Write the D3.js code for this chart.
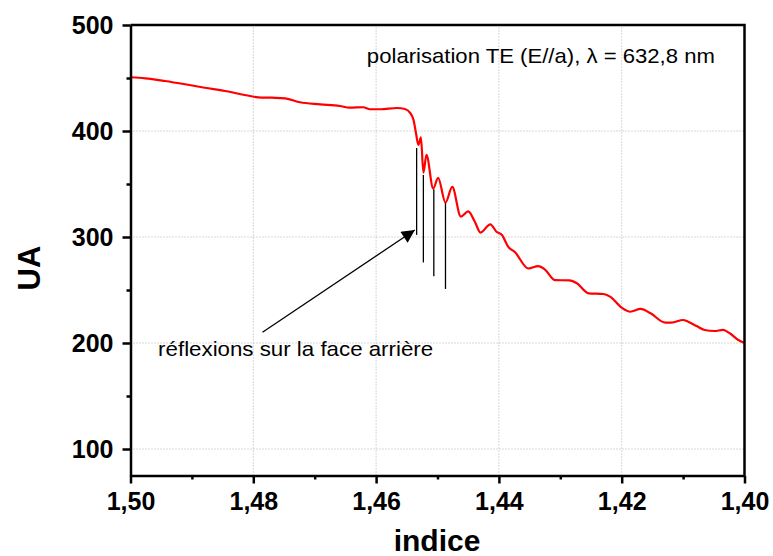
<!DOCTYPE html>
<html>
<head>
<meta charset="utf-8">
<script src="https://cdn.jsdelivr.net/npm/d3@7"></script>
<style>
  body { margin: 0; background: #fff; }
</style>
</head>
<body>
<div id="chart"></div>
<script>
// indice (axe x, inversé) et intensité UA (axe y)
const indice = [
    1.5000, 1.4976, 1.4944, 1.4911, 1.4879, 1.4846, 1.4814, 1.4792, 1.4770, 1.4748,
    1.4724, 1.4691, 1.4659, 1.4643, 1.4621, 1.4610, 1.4593, 1.4566, 1.4553, 1.4544,
    1.4539, 1.4535, 1.4531, 1.4527, 1.4523, 1.4518, 1.4507, 1.4499, 1.4487, 1.4476,
    1.4462, 1.4450, 1.4439, 1.4430, 1.4414, 1.4404, 1.4395, 1.4385, 1.4374, 1.4352,
    1.4336, 1.4325, 1.4309, 1.4285, 1.4273, 1.4254, 1.4230, 1.4219, 1.4200, 1.4186,
    1.4169, 1.4153, 1.4129, 1.4119, 1.4100, 1.4092, 1.4078, 1.4065, 1.4049, 1.4035,
    1.4024, 1.4010, 1.4001
];
const ua = [
    450.7, 449.7, 447.2, 444.1, 440.8, 437.7, 434.0, 431.8, 431.4, 430.8,
    427.1, 425.2, 423.6, 422.0, 422.4, 420.5, 420.5, 421.7, 420.8, 416.7,
    410.4, 397.8, 386.8, 394.1, 360.8, 377.4, 345.8, 355.7, 332.5, 347.2,
    319.3, 324.1, 314.2, 304.2, 312.0, 305.0, 301.9, 291.0, 285.8, 270.3,
    272.6, 269.3, 259.4, 259.0, 256.3, 246.9, 246.2, 243.7, 233.3, 229.5,
    232.1, 228.0, 219.2, 219.2, 221.7, 220.1, 216.0, 212.3, 211.3, 212.3,
    209.2, 202.8, 200.3
];

// graduations
const xTicks = [1.50, 1.48, 1.46, 1.44, 1.42, 1.40];
const xTickLabels = ["1,50", "1,48", "1,46", "1,44", "1,42", "1,40"];
const xMinorTicks = [1.49, 1.47, 1.45, 1.43, 1.41];
const yTicks = [100, 200, 300, 400, 500];
const yTickLabels = ["100", "200", "300", "400", "500"];
const yMinorTicks = [150, 250, 350, 450];

// réflexions sur la face arrière : traits verticaux (indice, haut, bas)
const refIndice = [1.4534, 1.4523, 1.4506, 1.4487];
const refTop = [384, 358.5, 345, 332];
const refBottom = [302, 276, 263, 251];

const titleText = "polarisation TE (E//a), \u03bb = 632,8 nm";
const noteText = "réflexions sur la face arrière";

function drawChart(htmlId) {
    const width = 773;
    const height = 556;
    const marginTop = 25;
    const marginRight = 28.5;
    const marginBottom = 80.5;
    const marginLeft = 130.5;
    const font = "Arial, 'Liberation Sans', sans-serif";

    const data = indice.map((d, i) => ({ x: d, y: ua[i] }));

    const x = d3.scaleLinear()
        .domain([1.50, 1.40])
        .range([marginLeft, width - marginRight]);

    const y = d3.scaleLinear()
        .domain([75, 500])
        .range([height - marginBottom, marginTop]);

    const svg = d3.select(htmlId).append("svg")
        .attr("width", width)
        .attr("height", height)
        .attr("viewBox", [0, 0, width, height])
        .attr("style", `font-family: ${font};`);

    // grille pointillée
    const grid = svg.append("g")
        .attr("stroke", "#b0b0b0")
        .attr("stroke-width", 1)
        .attr("stroke-dasharray", "1,2");

    grid.selectAll(".gx")
        .data(xTicks.slice(1, -1))
        .join("line")
        .attr("x1", d => x(d)).attr("x2", d => x(d))
        .attr("y1", y(75)).attr("y2", y(500));

    grid.selectAll(".gy")
        .data(yTicks.slice(0, -1))
        .join("line")
        .attr("x1", x(1.50)).attr("x2", x(1.40))
        .attr("y1", d => y(d)).attr("y2", d => y(d));

    // courbe
    svg.append("path")
        .datum(data)
        .attr("fill", "none")
        .attr("stroke", "#ff0000")
        .attr("stroke-width", 2.2)
        .attr("stroke-linejoin", "round")
        .attr("d", d3.line()
            .curve(d3.curveMonotoneX)
            .x(d => x(d.x))
            .y(d => y(d.y)));

    // traits des réflexions
    svg.append("g")
        .selectAll("line")
        .data(refIndice)
        .join("line")
        .attr("x1", d => x(d)).attr("x2", d => x(d))
        .attr("y1", (d, i) => y(refTop[i]))
        .attr("y2", (d, i) => y(refBottom[i]))
        .attr("stroke", "#000")
        .attr("stroke-width", 1.3);

    // flèche
    svg.append("defs").append("marker")
        .attr("id", "arrow")
        .attr("viewBox", "0 0 10 10")
        .attr("refX", 10).attr("refY", 5)
        .attr("markerWidth", 20).attr("markerHeight", 13)
        .attr("markerUnits", "userSpaceOnUse")
        .attr("orient", "auto")
        .append("path")
        .attr("d", "M0,0 L10,5 L0,10 Z")
        .attr("fill", "#000");

    svg.append("line")
        .attr("x1", x(1.4785)).attr("y1", y(210.1))
        .attr("x2", x(1.4537)).attr("y2", y(306.6))
        .attr("stroke", "#000")
        .attr("stroke-width", 1.3)
        .attr("marker-end", "url(#arrow)");

    // textes
    svg.append("text")
        .attr("x", x(1.4615))
        .attr("y", y(463.9))
        .attr("font-size", 21)
        .attr("textLength", 348)
        .attr("lengthAdjust", "spacingAndGlyphs")
        .attr("fill", "#000")
        .text(titleText);

    svg.append("text")
        .attr("x", x(1.4955))
        .attr("y", y(187.7))
        .attr("font-size", 21)
        .attr("textLength", 275)
        .attr("lengthAdjust", "spacingAndGlyphs")
        .attr("fill", "#000")
        .text(noteText);

    // axe x
    const xAxis = svg.append("g")
        .attr("transform", `translate(0,${height - marginBottom})`)
        .call(d3.axisBottom(x)
            .tickValues(xTicks)
            .tickFormat((d, i) => xTickLabels[i])
            .tickSize(8)
            .tickSizeOuter(0)
            .tickPadding(9));
    xAxis.selectAll("text")
        .attr("font-size", 25)
        .attr("font-weight", "bold")
        .attr("font-family", font)
        .attr("fill", "#000");

    svg.append("g")
        .attr("transform", `translate(0,${height - marginBottom})`)
        .call(d3.axisBottom(x).tickValues(xMinorTicks).tickSize(4).tickFormat(""))
        .call(g => g.select(".domain").remove());

    // axe y
    const yAxis = svg.append("g")
        .attr("transform", `translate(${marginLeft},0)`)
        .call(d3.axisLeft(y)
            .tickValues(yTicks)
            .tickFormat((d, i) => yTickLabels[i])
            .tickSize(8)
            .tickSizeOuter(0)
            .tickPadding(9));
    yAxis.selectAll("text")
        .attr("font-size", 25)
        .attr("font-weight", "bold")
        .attr("font-family", font)
        .attr("fill", "#000");

    svg.append("g")
        .attr("transform", `translate(${marginLeft},0)`)
        .call(d3.axisLeft(y).tickValues(yMinorTicks).tickSize(4).tickFormat(""))
        .call(g => g.select(".domain").remove());

    svg.selectAll(".domain, .tick line")
        .attr("stroke", "#000")
        .attr("stroke-width", 2.5);

    // cadre haut et droite
    svg.append("path")
        .attr("fill", "none")
        .attr("stroke", "#000")
        .attr("stroke-width", 2.5)
        .attr("d", `M${x(1.50)},${y(500)}H${x(1.40)}V${y(75)}`);

    // titres des axes
    svg.append("text")
        .attr("x", 437)
        .attr("y", 551)
        .attr("text-anchor", "middle")
        .attr("font-size", 30)
        .attr("font-weight", "bold")
        .text("indice");

    svg.append("text")
        .attr("transform", "translate(40,268) rotate(-90)")
        .attr("text-anchor", "middle")
        .attr("font-size", 31)
        .attr("font-weight", "bold")
        .text("UA");
}

drawChart("#chart");
</script>
</body>
</html>
